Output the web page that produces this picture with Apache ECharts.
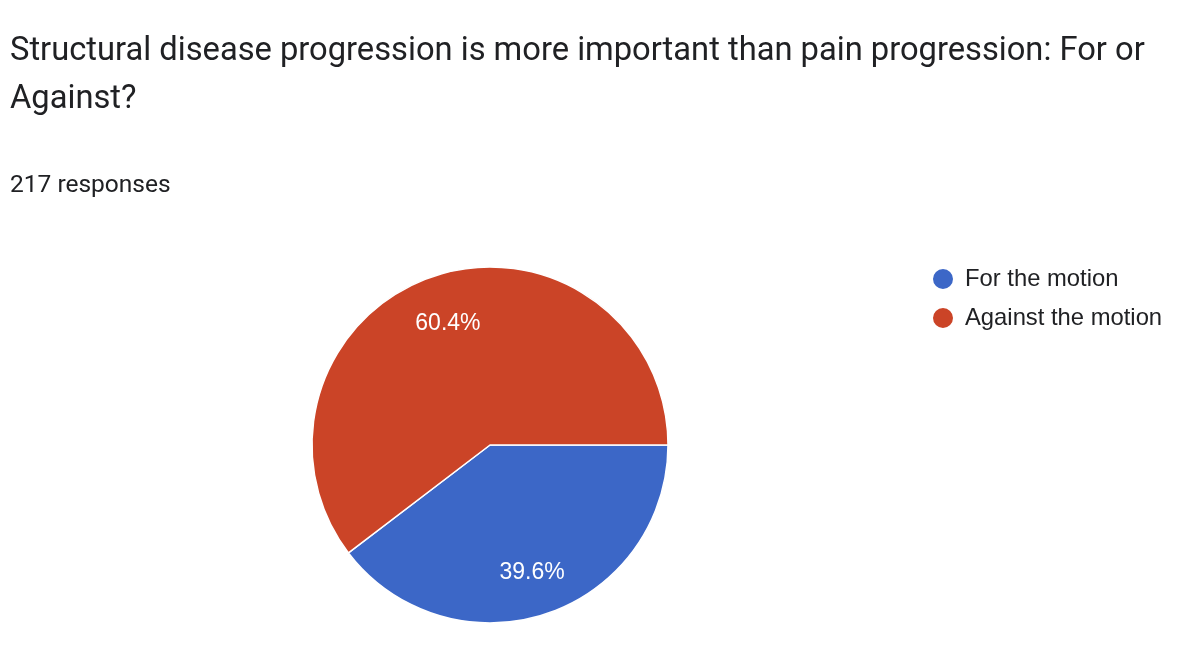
<!DOCTYPE html>
<html>
<head>
<meta charset="utf-8">
<style>
  html, body { margin: 0; padding: 0; background: #fff; }
  #container { width: 1200px; height: 645px; }
</style>
</head>
<body>
<div id="container"></div>
<script src="https://cdn.jsdelivr.net/npm/echarts@6/dist/echarts.min.js"></script>
<script>
// chart data
var categories = ['For the motion', 'Against the motion'];
var responses = [86, 131];   // 217 responses in total
var colors = ['#3c67c7', '#cb4427'];
var questionText = 'Structural disease progression is more important than pain progression: For or\nAgainst?';
var countText = '217 responses';

var pieData = categories.map(function (name, i) {
  return { name: name, value: responses[i] };
});

var myChart = echarts.init(document.getElementById('container'), null, { renderer: 'canvas' });

var option = {
  color: colors,
  animation: false,
  title: [
    {
      text: questionText,
      left: 5,
      top: 23,
      textStyle: { fontFamily: 'Roboto', fontSize: 32.7, fontWeight: 'normal', color: '#202124', lineHeight: 48 }
    },
    {
      text: countText,
      left: 5,
      top: 168,
      textStyle: { fontFamily: 'Roboto', fontSize: 24.5, fontWeight: 'normal', color: '#202124', lineHeight: 25 }
    }
  ],
  legend: {
    orient: 'vertical',
    left: 926,
    top: 262,
    icon: 'circle',
    itemWidth: 34,
    itemHeight: 22,
    itemGap: 15,
    data: categories,
    textStyle: { fontFamily: 'Liberation Sans', fontSize: 23.8, color: '#202124', lineHeight: 22 }
  },
  series: [
    {
      // the pie itself
      type: 'pie',
      center: [490, 445],
      radius: 178,
      startAngle: 0,
      clockwise: true,
      label: { show: false },
      labelLine: { show: false },
      itemStyle: { borderColor: '#fff', borderWidth: 1.5 },
      emphasis: { disabled: true },
      data: pieData
    },
    {
      // invisible ring, only carries the percent labels further out
      type: 'pie',
      center: [490, 445],
      radius: [79, 178],
      startAngle: 0,
      clockwise: true,
      silent: true,
      percentPrecision: 1,
      itemStyle: { color: 'rgba(0,0,0,0)' },
      emphasis: { disabled: true },
      label: {
        show: true,
        position: 'inside',
        formatter: '{d}%',
        offset: [0, 3],
        fontFamily: 'Liberation Sans',
        fontSize: 23,
        color: '#fff'
      },
      labelLine: { show: false },
      data: pieData
    }
  ]
};

myChart.setOption(option);
window.addEventListener('resize', myChart.resize);
</script>
</body>
</html>
